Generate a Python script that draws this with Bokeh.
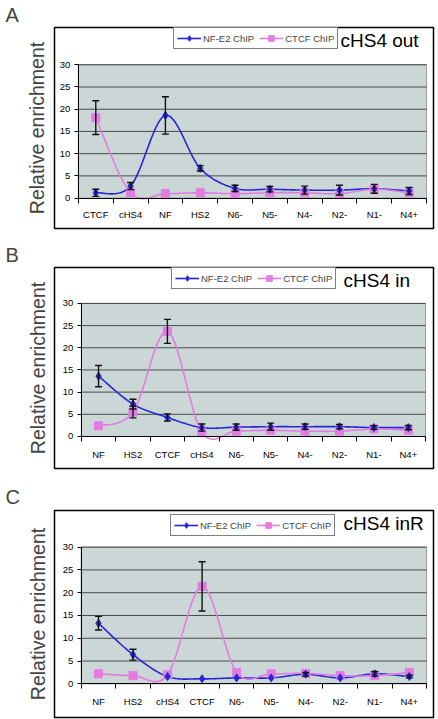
import numpy as np
from bokeh.plotting import figure
from bokeh.layouts import column
from bokeh.models import (ColumnDataSource, Whisker, TeeHead, Legend, LegendItem, Label,
                          FixedTicker, Range1d, Title)
from bokeh.embed import file_html
from bokeh.resources import INLINE

# ---------------- data ----------------
cats_a = ["CTCF", "cHS4", "NF", "HS2", "N6-", "N5-", "N4-", "N2-", "N1-", "N4+"]
nfe2_a = [1.2, 2.7, 18.6, 6.7, 2.2, 2.0, 1.8, 1.8, 2.1, 1.6]
nfe2_a_err = [0.8, 0.8, 4.2, 0.6, 0.7, 0.6, 0.9, 1.1, 1.0, 0.8]
ctcf_a = [18.1, 1.2, 1.0, 1.2, 1.0, 1.2, 1.2, 1.0, 2.0, 1.2]
ctcf_a_err = [3.8, 0, 0, 0, 0, 0, 0, 0, 0, 0]

cats_b = ["NF", "HS2", "CTCF", "cHS4", "N6-", "N5-", "N4-", "N2-", "N1-", "N4+"]
nfe2_b = [13.6, 7.3, 4.3, 2.0, 2.1, 2.2, 2.2, 2.2, 2.0, 2.0]
nfe2_b_err = [2.4, 1.1, 0.8, 0.8, 0.7, 0.8, 0.6, 0.5, 0.4, 0.5]
ctcf_b = [2.4, 5.5, 23.7, 1.0, 1.2, 1.4, 1.2, 1.2, 1.7, 1.4]
ctcf_b_err = [0, 1.3, 2.7, 0, 0, 0, 0, 0, 0, 0]

cats_c = ["NF", "HS2", "cHS4", "CTCF", "N6-", "N5-", "N4-", "N2-", "N1-", "N4+"]
nfe2_c = [13.3, 6.4, 1.6, 1.1, 1.3, 1.3, 2.1, 1.3, 2.2, 1.6]
nfe2_c_err = [1.5, 1.2, 0, 0, 0, 0, 0.4, 0, 0.5, 0.3]
ctcf_c = [2.2, 1.8, 2.0, 21.4, 2.5, 2.2, 2.3, 1.8, 1.8, 2.5]
ctcf_c_err = [0, 0, 0, 5.4, 0, 0, 0, 0, 0, 0]

y_ticks = [0, 5, 10, 15, 20, 25, 30]
series_names = ["NF-E2 ChIP", "CTCF ChIP"]
y_label = "Relative enrichment"

FONT = "Liberation Sans"
BLUE = "#2626d6"
PINK = "#e27ce2"
W = 438


def smooth(xs, ys, n=24):
    pts = list(zip(xs, ys))
    m = len(pts)
    ox, oy = [], []
    for i in range(m - 1):
        p0 = pts[i - 1] if i > 0 else pts[i]
        p1 = pts[i]
        p2 = pts[i + 1]
        p3 = pts[i + 2] if i + 2 < m else pts[i + 1]
        c1 = (p1[0] + (p2[0] - p0[0]) / 6.0, p1[1] + (p2[1] - p0[1]) / 6.0)
        c2 = (p2[0] - (p3[0] - p1[0]) / 6.0, p2[1] - (p3[1] - p1[1]) / 6.0)
        ts = np.linspace(0, 1, n, endpoint=(i == m - 2))
        for t in ts:
            a = (1 - t) ** 3
            b = 3 * (1 - t) ** 2 * t
            c = 3 * (1 - t) * t ** 2
            d = t ** 3
            ox.append(a * p1[0] + b * c1[0] + c * c2[0] + d * p2[0])
            oy.append(a * p1[1] + b * c1[1] + c * c2[1] + d * p2[1])
    return ox, oy


def make_panel(letter, title, cats, nf, nf_err, ct, ct_err, g):
    h = g["h"]
    n = len(cats)
    x_lo, x_hi = -0.5, n - 0.5
    y_lo, y_hi = y_ticks[0], y_ticks[-1]
    sx = (g["px1"] - g["px0"]) / (x_hi - x_lo)
    sy = (g["py0"] - g["py30"]) / (y_hi - y_lo)
    xr = Range1d(x_lo - (g["px0"] - g["bx0"]) / sx, x_hi + (g["bx1"] - g["px1"]) / sx)
    yr = Range1d(y_lo - (g["by1"] - g["py0"]) / sy, y_hi + (g["py30"] - g["by0"]) / sy)

    p = figure(width=W, height=h, output_backend="svg", toolbar_location=None,
               x_range=xr, y_range=yr,
               min_border_left=g["bx0"], min_border_right=W - g["bx1"],
               min_border_top=g["by0"], min_border_bottom=h - g["by1"])
    p.background_fill_color = "white"
    p.border_fill_color = "white"
    p.outline_line_color = "black"
    p.outline_line_width = 1.5

    # panel letter
    p.title.text = letter
    p.title.text_font = FONT
    p.title.text_font_size = "20px"
    p.title.text_font_style = "normal"
    p.title.align = "left"
    p.title.offset = g["lx0"] - g["bx0"]
    p.title.standoff = g["lst"]

    # y axis label (outside the box)
    p.add_layout(Title(text=y_label, align="center", text_font=FONT, text_font_size="19.5px",
                       text_font_style="normal", standoff=g["yst"], offset=g["yoff"]), "left")

    # plot area
    p.quad(left=[x_lo], right=[x_hi], bottom=[y_lo], top=[y_hi],
           fill_color="#cbd6d6", line_color="#9a9a9a", line_width=1)
    p.xgrid.grid_line_color = None
    p.ygrid.grid_line_color = None
    gy = y_ticks[1:]
    p.segment(x0=[x_lo] * len(gy), x1=[x_hi] * len(gy), y0=gy, y1=gy,
              line_color="#4a4a4a", line_width=1)

    xs = list(range(n))
    sx_, sy_ = smooth(xs, nf)
    l1 = p.line(sx_, sy_, line_color=BLUE, line_width=1.6)
    sx2, sy2 = smooth(xs, ct)
    l2 = p.line(sx2, sy2, line_color=PINK, line_width=1.6)
    src_nf = ColumnDataSource(dict(x=xs, y=nf))
    src_ct = ColumnDataSource(dict(x=xs, y=ct))
    m2 = p.scatter("x", "y", source=src_ct, marker="square", size=8,
                   fill_color=PINK, line_color=PINK)
    m1 = p.scatter("x", "y", source=src_nf, marker="diamond", size=8,
                   fill_color=BLUE, line_color=BLUE)

    for vals, errs in ((nf, nf_err), (ct, ct_err)):
        bx = [x for x, e in zip(xs, errs) if e > 0]
        up = [v + e for v, e in zip(vals, errs) if e > 0]
        lo = [v - e for v, e in zip(vals, errs) if e > 0]
        if bx:
            wsrc = ColumnDataSource(dict(base=bx, upper=up, lower=lo))
            w = Whisker(base="base", upper="upper", lower="lower", source=wsrc,
                        level="annotation",
                        line_color="#111111", line_width=1.4,
                        upper_head=TeeHead(size=7, line_color="#111111", line_width=1.4),
                        lower_head=TeeHead(size=7, line_color="#111111", line_width=1.4))
            p.add_layout(w)

    # axes at fixed positions
    xa = p.xaxis[0]
    ya = p.yaxis[0]
    xa.fixed_location = y_lo
    ya.fixed_location = x_lo
    xa.bounds = (x_lo, x_hi)
    ya.bounds = (y_lo, y_hi)
    ya.ticker = FixedTicker(ticks=y_ticks)
    xa.ticker = FixedTicker(ticks=xs, minor_ticks=[x - 0.5 for x in xs] + [xs[-1] + 0.5])
    xa.major_label_overrides = {x: c for x, c in zip(xs, cats)}
    for ax in (xa, ya):
        ax.axis_line_color = "black"
        ax.axis_line_width = 1
        ax.major_label_text_font = FONT
        ax.major_label_text_font_size = "9.5px"
        ax.major_label_text_color = "black"
    xa.major_tick_line_color = None
    xa.major_tick_out = 0
    xa.major_tick_in = 0
    xa.minor_tick_line_color = "black"
    xa.minor_tick_out = 5
    xa.minor_tick_in = 0
    xa.major_label_standoff = g["xst"]
    ya.major_tick_line_color = "black"
    ya.major_tick_out = 4
    ya.major_tick_in = 0
    ya.minor_tick_line_color = None
    ya.major_label_standoff = 4

    # legend
    leg = Legend(items=[LegendItem(label=series_names[0], renderers=[l1, m1]),
                        LegendItem(label=series_names[1], renderers=[l2, m2])],
                 orientation="horizontal",
                 location=(g["lgx"] - g["bx0"], g["by1"] - g["lgy1"]),
                 label_text_font=FONT, label_text_font_size="9.5px",
                 glyph_width=24, glyph_height=14, label_height=14,
                 label_standoff=2, spacing=5, padding=3, margin=0,
                 border_line_color="black", border_line_width=1,
                 background_fill_color="white", background_fill_alpha=1)
    p.add_layout(leg)

    p.add_layout(Label(x=g["tx"], y=g["ty"], x_units="canvas", y_units="canvas", text=title,
                       text_font=FONT, text_font_size="19px", text_baseline="middle",
                       text_align="left", text_color="black"))
    return p


geom_a = dict(h=240, bx0=54, bx1=435, by0=23, by1=228, px0=78, px1=428, py30=61, py0=197,
              lgx=173, lgy1=49, tx=340, ty=40, lx0=5, lst=3, yst=14, yoff=-12, xst=6)
geom_b = dict(h=240, bx0=52, bx1=433, by0=21, by1=228, px0=79, px1=425, py30=58, py0=195,
              lgx=169, lgy1=49, tx=343, ty=40, lx0=3, lst=3, yst=12, yoff=-8, xst=8)
geom_c = dict(h=239, bx0=52, bx1=435, by0=28, by1=237, px0=79, px1=428, py30=65, py0=203,
              lgx=168, lgy1=56, tx=343, ty=43, lx0=3, lst=6, yst=12, yoff=-8, xst=7)

pa = make_panel("A", "cHS4 out", cats_a, nfe2_a, nfe2_a_err, ctcf_a, ctcf_a_err, geom_a)
pb = make_panel("B", "cHS4 in", cats_b, nfe2_b, nfe2_b_err, ctcf_b, ctcf_b_err, geom_b)
pc = make_panel("C", "cHS4 inR", cats_c, nfe2_c, nfe2_c_err, ctcf_c, ctcf_c_err, geom_c)

layout = column(pa, pb, pc, spacing=0)
open("out.html", "w").write(file_html(layout, INLINE))
